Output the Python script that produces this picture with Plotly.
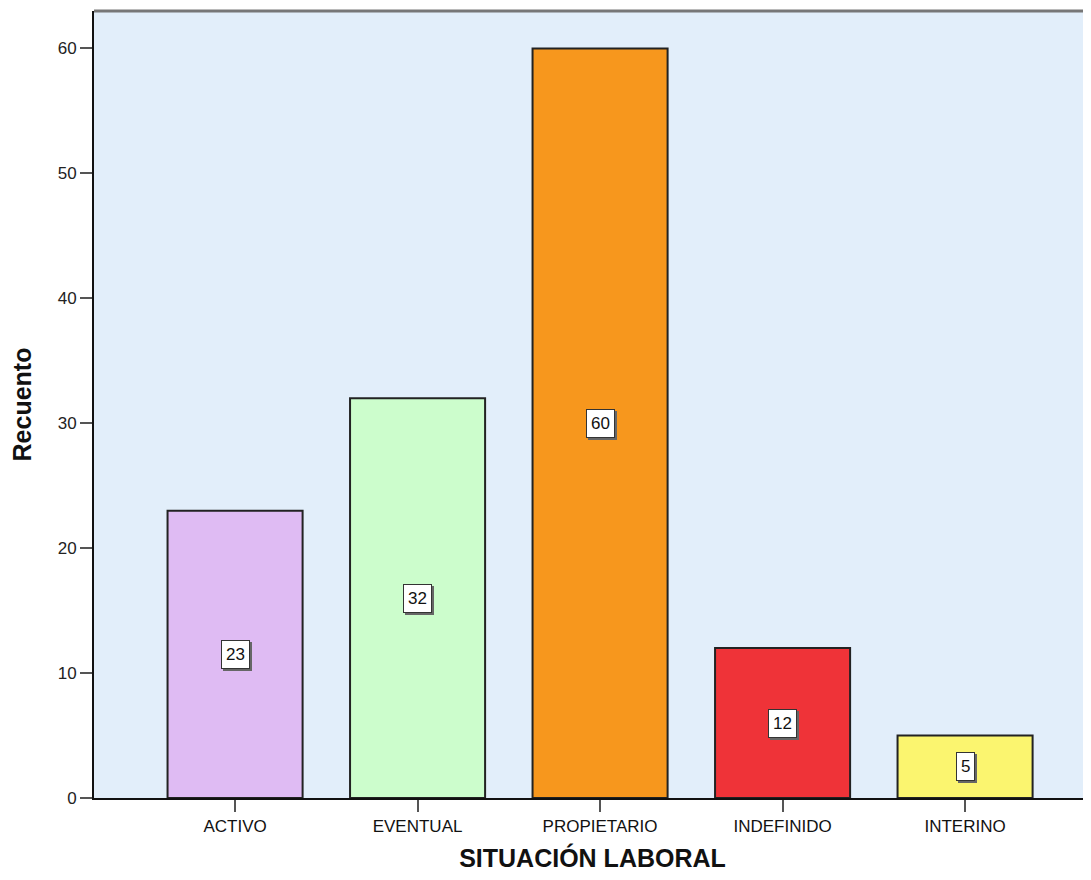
import plotly.graph_objects as go

categories = ["ACTIVO", "EVENTUAL", "PROPIETARIO", "INDEFINIDO", "INTERINO"]
counts = [23, 32, 60, 12, 5]
bar_colors = ["#dfbbf3", "#ccfdcc", "#f7971d", "#ef3338", "#fbf56f"]
y_ticks = [0, 10, 20, 30, 40, 50, 60]

fig = go.Figure()
fig.add_trace(go.Bar(
    x=categories, y=counts, width=0.74,
    marker=dict(color=bar_colors, line=dict(color="#222222", width=2)),
    hoverinfo="skip",
))

# value labels (with a small drop shadow)
for c, v in zip(categories, counts):
    fig.add_annotation(x=c, y=v / 2, text=str(v), showarrow=False,
                       xshift=2, yshift=-2,
                       font=dict(family="Liberation Sans, Arial", size=17, color="rgba(0,0,0,0)"),
                       bgcolor="#666666", bordercolor="#666666", borderwidth=1, borderpad=4)
    fig.add_annotation(x=c, y=v / 2, text=str(v), showarrow=False,
                       font=dict(family="Liberation Sans, Arial", size=17, color="#111111"),
                       bgcolor="#ffffff", bordercolor="#333333", borderwidth=1, borderpad=4)

fig.update_layout(
    width=1083, height=864,
    margin=dict(l=86, r=0, t=3, b=74),
    paper_bgcolor="#ffffff", plot_bgcolor="#e2eefa",
    showlegend=False,
    font=dict(family="Liberation Sans, Arial", color="#111111"),
)
fig.update_xaxes(
    range=[-0.773, 4.69], showgrid=False, zeroline=False,
    showline=True, linecolor="#111111", linewidth=2,
    ticks="outside", ticklen=12, tickwidth=2, tickcolor="#555555",
    tickfont=dict(family="Liberation Sans, Arial", size=17, color="#111111"),
    title=dict(text="<b>SITUACIÓN LABORAL</b>", font=dict(size=25, color="#111111"), standoff=16),
)
fig.update_yaxes(
    range=[0, 63], tickvals=y_ticks, showgrid=False, zeroline=False,
    showline=True, linecolor="#111111", linewidth=2,
    ticks="outside", ticklen=12, tickwidth=2, tickcolor="#555555",
    tickfont=dict(family="Liberation Sans, Arial", size=17, color="#222222"),
    title=dict(text="<b>Recuento</b>", font=dict(size=25, color="#111111"), standoff=22),
)
# gray top border of the plot area
fig.add_shape(type="line", xref="paper", yref="paper", x0=0, x1=1, y0=1, y1=1,
              line=dict(color="#777777", width=3))

fig.write_html("out.html")
